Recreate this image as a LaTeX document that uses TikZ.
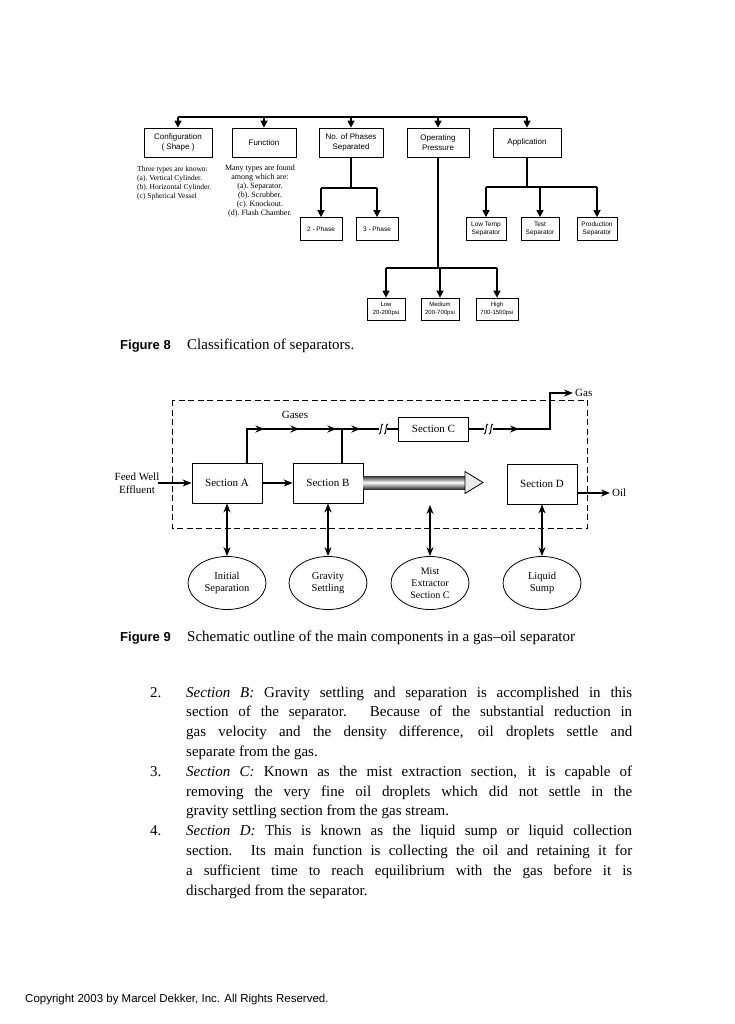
\documentclass[tikz,border=0pt]{standalone}
\usepackage{fontspec}
\setmainfont{Liberation Serif}
\setsansfont{Liberation Sans}
\usetikzlibrary{arrows.meta,shapes.geometric,decorations.markings}
\newcommand{\flechette}{\arrow{Stealth[length=9pt,width=7pt]}}
\tikzset{
	boite/.style={draw,line width=0.7pt,align=center,inner sep=1pt,font=\sffamily\fontsize{8}{9.5}\selectfont},
	petite/.style={boite,font=\sffamily\fontsize{6.5}{8}\selectfont},
	trait/.style={line width=1.3pt},
	fleche/.style={line width=1.3pt,-{Triangle[length=7pt,width=7pt]}},
	section/.style={draw,line width=0.8pt,minimum width=70,minimum height=40,inner sep=1pt,font=\fontsize{11}{13}\selectfont},
	zone/.style={draw,line width=0.8pt,ellipse,minimum width=78,minimum height=53,inner sep=0pt,align=center,font=\fontsize{10.5}{12.5}\selectfont},
	flux/.style={line width=1.6pt,-{Stealth[length=9pt,width=7pt]}},
	double flux/.style={line width=1.6pt,{Stealth[length=9pt,width=7pt]}-{Stealth[length=9pt,width=7pt]}},
	pointes/.style={line width=1.6pt,postaction={decorate},decoration={markings,#1}},
	cassure/.pic={\draw[line width=1pt] (2,-5) .. controls (-1,-6) and (1,6) .. (-2,5);},
}
\begin{document}
\begin{tikzpicture}[x=1pt,y=-1pt]
	\fill[white] (0,0) rectangle (735,1024);
	\useasboundingbox (0,0) rectangle (735,1024);
	%figure 8
	\node[boite,minimum width=68,minimum height=29] (config) at (178,142.5) {Configuration\\( Shape )};
	\node[boite,minimum width=64,minimum height=29] (fonction) at (264,142.5) {Function};
	\node[boite,minimum width=64,minimum height=29] (phases) at (351,142.5) {No. of Phases\\Separated};
	\node[boite,minimum width=62,minimum height=29] (pression) at (438,142.5) {Operating\\Pressure};
	\node[boite,minimum width=68,minimum height=29] (application) at (527,142.5) {Application};
	\draw[trait] (config.north |- 0,117) -- (application.north |- 0,117);
	\foreach \n in {config,fonction,phases,pression,application}
		\draw[fleche] (\n.north |- 0,117) -- (\n.north);
	\node[anchor=north west,align=left,inner sep=0pt,font=\fontsize{7.5}{9}\selectfont] (formes) at (137,166) {Three types are known:\\(a).\ Vertical Cylinder.\\(b).\ Horizontal Cylinder.\\(c)\ Spherical Vessel};
	\node[anchor=north,align=center,inner sep=0pt,font=\fontsize{8}{9}\selectfont] (types) at (260,165) {Many types are found\\among which are:\\(a).\ Separator.\\(b).\ Scrubber.\\(c).\ Knockout.\\(d).\ Flash Chamber.};
	\node[petite,minimum width=42,minimum height=23] (deux) at (321,229) {2 - Phase};
	\node[petite,minimum width=42,minimum height=23] (trois) at (377,229) {3 - Phase};
	\draw[trait] (phases.south) -- (phases.south |- 0,188);
	\draw[trait] (deux.north |- 0,188) -- (trois.north |- 0,188);
	\draw[fleche] (deux.north |- 0,188) -- (deux.north);
	\draw[fleche] (trois.north |- 0,188) -- (trois.north);
	\node[petite,minimum width=40,minimum height=23] (froid) at (486,229) {Low Temp\\Separator};
	\node[petite,minimum width=38,minimum height=23] (essai) at (540,229) {Test\\Separator};
	\node[petite,minimum width=40,minimum height=23] (production) at (597,229) {Production\\Separator};
	\draw[trait] (application.south) -- (application.south |- 0,187);
	\draw[trait] (froid.north |- 0,187) -- (production.north |- 0,187);
	\foreach \n in {froid,essai,production}
		\draw[fleche] (\n.north |- 0,187) -- (\n.north);
	\node[petite,minimum width=38,minimum height=22,font=\sffamily\fontsize{6}{7.5}\selectfont] (bas) at (386,309) {Low\\20-200psi};
	\node[petite,minimum width=38,minimum height=22,font=\sffamily\fontsize{6}{7.5}\selectfont] (moyen) at (440,309) {Medium\\200-700psi};
	\node[petite,minimum width=42,minimum height=22,font=\sffamily\fontsize{6}{7.5}\selectfont] (haut) at (497,309) {High\\700-1500psi};
	\draw[trait] (pression.south) -- (pression.south |- 0,268);
	\draw[trait] (bas.north |- 0,268) -- (haut.north |- 0,268);
	\foreach \n in {bas,moyen,haut}
		\draw[fleche] (\n.north |- 0,268) -- (\n.north);
	\node[anchor=base west,inner sep=0pt,font=\sffamily\bfseries\fontsize{13}{15}\selectfont] (fig8) at (120,349) {Figure 8};
	\node[anchor=base west,inner sep=0pt,font=\fontsize{15}{18}\selectfont] (titre8) at (187,349) {Classification of separators.};
	%figure 9
	\draw[line width=0.8pt,dash pattern=on 6pt off 3.5pt] (172,400) rectangle (587,528);
	\node[section] (A) at (227,483) {Section A};
	\node[section] (B) at (328,483) {Section B};
	\node[section,minimum height=24] (C) at (433.5,429) {Section C};
	\node[section] (D) at (542,484) {Section D};
	\node[zone] (initiale) at (227,583) {Initial\\Separation};
	\node[zone] (gravite) at (328,583) {Gravity\\Settling};
	\node[zone,font=\fontsize{10}{12}\selectfont] (brume) at (430,583) {Mist\\Extractor\\Section C};
	\node[zone] (puisard) at (542,583) {Liquid\\Sump};
	\node[align=center,inner sep=0pt,font=\fontsize{11}{13}\selectfont] (entree) at (137,483) {Feed Well\\Effluent};
	\node[inner sep=0pt,font=\fontsize{11}{13}\selectfont] (gaz) at (295,415) {Gases};
	\node[anchor=west,inner sep=2pt,font=\fontsize{11}{13}\selectfont] (sortie) at (573,393) {Gas};
	\node[anchor=west,inner sep=2pt,font=\fontsize{11}{13}\selectfont] (huile) at (610,493) {Oil};
	\coordinate (depart) at (158,483);
	\coordinate (jonction) at (342,429);
	\coordinate (coupure1) at (379,429);
	\coordinate (reprise1) at (387,429);
	\coordinate (coupure2) at (484,429);
	\coordinate (reprise2) at (493,429);
	\coordinate (coin) at (550,393);
	\coordinate (haut brume) at (430,505);
	\draw[flux] (depart) -- (A.west);
	\draw[flux] (A.east) -- (B.west);
	\draw[pointes={mark=at position 51pt with {\flechette},mark=at position 86pt with {\flechette},mark=at position 123pt with {\flechette}}] ([xshift=20pt]A.north) |- (jonction);
	\draw[pointes={mark=at position 52pt with {\flechette}}] ([xshift=14pt]B.north) |- (coupure1);
	\pic at (381,429) {cassure};
	\pic at (386,429) {cassure};
	\draw[line width=1.6pt] (reprise1) -- (C.west);
	\draw[line width=1.6pt] (C.east) -- (coupure2);
	\pic at (486,429) {cassure};
	\pic at (491,429) {cassure};
	\draw[pointes={mark=at position 26pt with {\flechette}},-{Stealth[length=9pt,width=7pt]}] (reprise2) -| (coin) -- (sortie.west);
	\draw[flux] ([yshift=-9pt]D.east) -- (huile.west);
	\shade[top color=black!80,bottom color=black!80,middle color=white] (B.east |- 0,476) rectangle (465,489);
	\draw[line width=0.8pt,fill=black!8] (465,471.5) -- (483,482.5) -- (465,493.5) -- cycle;
	\draw[double flux] (A.south) -- (initiale.north);
	\draw[double flux] (B.south) -- (gravite.north);
	\draw[double flux] (haut brume) -- (brume.north);
	\draw[double flux] (D.south) -- (puisard.north);
	\node[anchor=base west,inner sep=0pt,font=\sffamily\bfseries\fontsize{13}{15}\selectfont] (fig9) at (120,641) {Figure 9};
	\node[anchor=base west,inner sep=0pt,font=\fontsize{15}{18}\selectfont] (titre9) at (187,641) {Schematic outline of the main components in a gas--oil separator};
	%texte
	\node[anchor=north west,inner sep=0pt,align=left,font=\fontsize{15}{19.8}\selectfont] (texte) at (186,686.5) {%
		\llap{\makebox[36pt][l]{2.}}\makebox[446pt][s]{\textit{Section B:} Gravity settling and separation is accomplished in this}\\
		\makebox[446pt][s]{section of the separator. Because of the substantial reduction in}\\
		\makebox[446pt][s]{gas velocity and the density difference, oil droplets settle and}\\
		separate from the gas.\\
		\llap{\makebox[36pt][l]{3.}}\makebox[446pt][s]{\textit{Section C:} Known as the mist extraction section, it is capable of}\\
		\makebox[446pt][s]{removing the very fine oil droplets which did not settle in the}\\
		gravity settling section from the gas stream.\\
		\llap{\makebox[36pt][l]{4.}}\makebox[446pt][s]{\textit{Section D:} This is known as the liquid sump or liquid collection}\\
		\makebox[446pt][s]{section. Its main function is collecting the oil and retaining it for}\\
		\makebox[446pt][s]{a sufficient time to reach equilibrium with the gas before it is}\\
		discharged from the separator.};
	\node[anchor=base west,inner sep=0pt,font=\sffamily\fontsize{11.5}{13}\selectfont] (droits) at (25,1002) {Copyright 2003 by Marcel Dekker, Inc. All Rights Reserved.};
\end{tikzpicture}
\end{document}
